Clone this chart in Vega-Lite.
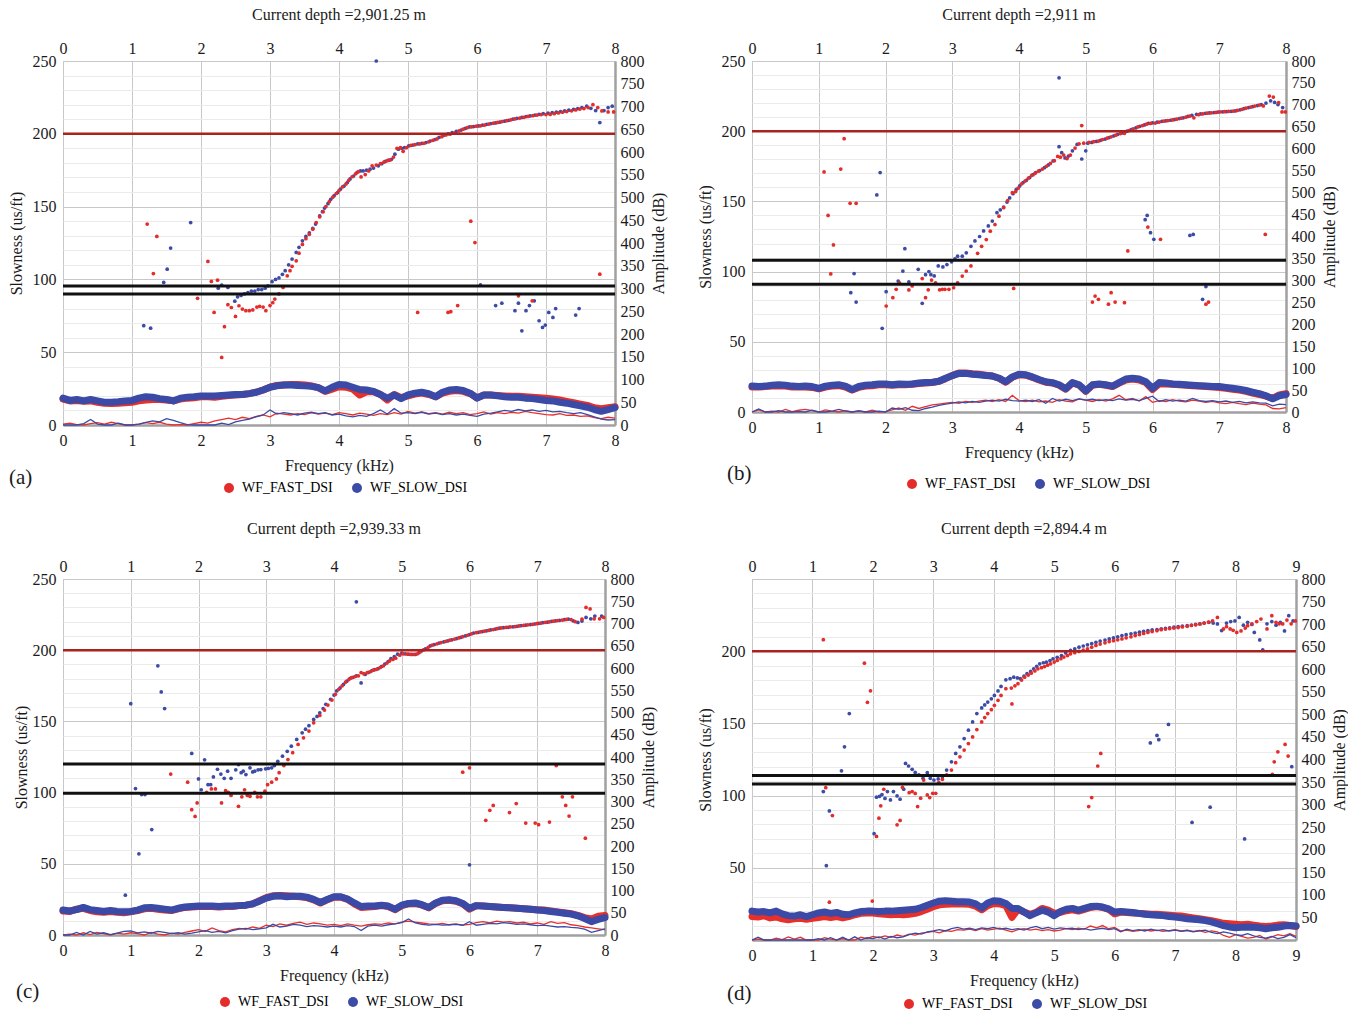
{
"$schema":"https://vega.github.io/schema/vega-lite/v6.json",
"padding":{"left":7,"top":6,"right":0,"bottom":0},
"background":"white",
"datasets":{
"dA":[
{"f":1.17,"b":68.2},{"f":1.27,"b":66.5},{"f":1.46,"b":97.9},{"f":1.51,"b":107},{"f":1.56,"b":121.5},{"f":1.85,"b":139},{"f":2.25,"b":94},{"f":2.3,"b":96},{"f":2.39,"b":94.5},{"f":2.49,"b":85},{"f":2.53,"b":88},{"f":2.58,"b":89},{"f":2.63,"b":90},{"f":2.68,"b":91},{"f":2.73,"b":92},{"f":2.78,"b":92},{"f":2.83,"b":93},{"f":2.88,"b":93},{"f":2.93,"b":94},{"f":2.97,"b":95.5},{"f":3.03,"b":98.4},{"f":3.08,"b":100},{"f":3.13,"b":101},{"f":3.18,"b":103.5},{"f":3.22,"b":106},{"f":3.27,"b":110},{"f":3.32,"b":114},{"f":3.38,"b":118.5},{"f":3.42,"b":122},{"f":3.47,"b":126.5},{"f":3.52,"b":129.5},{"f":3.57,"b":132},{"f":3.62,"b":135},{"f":3.66,"b":138},{"f":3.72,"b":143.6},{"f":3.76,"b":146.5},{"f":3.79,"b":149},{"f":3.84,"b":152},{"f":3.88,"b":155},{"f":3.93,"b":157.5},{"f":3.98,"b":159.6},{"f":4.02,"b":162},{"f":4.07,"b":164},{"f":4.12,"b":166.5},{"f":4.16,"b":169},{"f":4.21,"b":171},{"f":4.26,"b":173.4},{"f":4.31,"b":174.5},{"f":4.35,"b":174.5},{"f":4.4,"b":175},{"f":4.45,"b":175.7},{"f":4.5,"b":176.5},{"f":4.54,"b":250},{"f":4.57,"b":178},{"f":4.62,"b":179.5},{"f":4.67,"b":181},{"f":4.72,"b":182},{"f":4.76,"b":182.5},{"f":4.81,"b":186},{"f":4.86,"b":189.4},{"f":4.91,"b":190},{"f":4.95,"b":190.5},{"f":5.01,"b":191.7},{"f":5.07,"b":192.3},{"f":5.14,"b":193},{"f":5.2,"b":193.5},{"f":5.26,"b":194},{"f":5.32,"b":195},{"f":5.39,"b":196},{"f":5.45,"b":197.5},{"f":5.52,"b":199},{"f":5.58,"b":200},{"f":5.64,"b":200.8},{"f":5.7,"b":201.7},{"f":5.77,"b":202.6},{"f":5.83,"b":203.7},{"f":5.89,"b":204.7},{"f":5.95,"b":205},{"f":6.02,"b":205.4},{"f":6.05,"b":96.3},{"f":6.08,"b":206},{"f":6.14,"b":206.5},{"f":6.2,"b":207},{"f":6.27,"b":207.5},{"f":6.27,"b":82},{"f":6.33,"b":208},{"f":6.36,"b":83.7},{"f":6.4,"b":208.7},{"f":6.46,"b":209.3},{"f":6.52,"b":210},{"f":6.55,"b":78.5},{"f":6.58,"b":210.6},{"f":6.6,"b":83.7},{"f":6.65,"b":211.2},{"f":6.65,"b":64.7},{"f":6.71,"b":211.8},{"f":6.71,"b":78.5},{"f":6.76,"b":82},{"f":6.77,"b":212.3},{"f":6.83,"b":85.3},{"f":6.84,"b":212.9},{"f":6.9,"b":213.4},{"f":6.9,"b":71.6},{"f":6.95,"b":67},{"f":6.96,"b":213.8},{"f":6.99,"b":68.6},{"f":7.03,"b":214.2},{"f":7.04,"b":77.3},{"f":7.09,"b":214.5},{"f":7.1,"b":73.9},{"f":7.14,"b":80},{"f":7.15,"b":214.9},{"f":7.21,"b":215.3},{"f":7.27,"b":215.7},{"f":7.33,"b":216.2},{"f":7.4,"b":216.8},{"f":7.43,"b":75.5},{"f":7.46,"b":217.3},{"f":7.48,"b":80},{"f":7.52,"b":218},{"f":7.59,"b":219},{"f":7.65,"b":217.5},{"f":7.72,"b":216},{"f":7.78,"b":207.7},{"f":7.84,"b":216},{"f":7.9,"b":218},{"f":7.96,"b":219},
{"f":1.22,"a":138},{"f":1.31,"a":104},{"f":1.36,"a":129.5},{"f":1.95,"a":87},{"f":2.1,"a":112.3},{"f":2.15,"a":98.6},{"f":2.19,"a":77.3},{"f":2.24,"a":99.5},{"f":2.3,"a":46.4},{"f":2.34,"a":67.5},{"f":2.39,"a":82.6},{"f":2.44,"a":80.7},{"f":2.5,"a":74.6},{"f":2.55,"a":81.9},{"f":2.6,"a":79.6},{"f":2.65,"a":78.5},{"f":2.7,"a":78.5},{"f":2.75,"a":79},{"f":2.81,"a":81},{"f":2.85,"a":81.5},{"f":2.9,"a":81},{"f":2.94,"a":78.5},{"f":3.0,"a":82},{"f":3.04,"a":84},{"f":3.07,"a":86.5},{"f":3.13,"a":90},{"f":3.19,"a":94.5},{"f":3.25,"a":102.5},{"f":3.29,"a":106},{"f":3.32,"a":109},{"f":3.38,"a":112.8},{"f":3.42,"a":118},{"f":3.47,"a":124},{"f":3.52,"a":128},{"f":3.57,"a":131},{"f":3.62,"a":134.5},{"f":3.67,"a":139},{"f":3.72,"a":143},{"f":3.77,"a":146.5},{"f":3.81,"a":150},{"f":3.86,"a":153.5},{"f":3.91,"a":156.5},{"f":3.96,"a":159},{"f":4.0,"a":161},{"f":4.05,"a":163.5},{"f":4.1,"a":165.5},{"f":4.14,"a":168},{"f":4.19,"a":170.5},{"f":4.24,"a":172.5},{"f":4.28,"a":174},{"f":4.32,"a":170.4},{"f":4.38,"a":172},{"f":4.43,"a":174.5},{"f":4.48,"a":178},{"f":4.54,"a":178.5},{"f":4.6,"a":179.5},{"f":4.65,"a":180.5},{"f":4.7,"a":181.5},{"f":4.74,"a":182},{"f":4.79,"a":184},{"f":4.84,"a":190},{"f":4.89,"a":190.5},{"f":4.93,"a":188},{"f":4.98,"a":190.5},{"f":5.04,"a":192},{"f":5.1,"a":192.5},{"f":5.14,"a":77.3},{"f":5.17,"a":193},{"f":5.23,"a":193.5},{"f":5.3,"a":194.5},{"f":5.36,"a":195.5},{"f":5.42,"a":196.5},{"f":5.49,"a":198},{"f":5.55,"a":199.2},{"f":5.58,"a":77.3},{"f":5.61,"a":199.7},{"f":5.62,"a":77.8},{"f":5.67,"a":200.5},{"f":5.72,"a":82},{"f":5.74,"a":202},{"f":5.8,"a":203.2},{"f":5.86,"a":204.2},{"f":5.91,"a":140},{"f":5.92,"a":204.8},{"f":5.97,"a":125.3},{"f":5.99,"a":205.2},{"f":6.05,"a":205.5},{"f":6.11,"a":206},{"f":6.17,"a":206.7},{"f":6.24,"a":207.3},{"f":6.3,"a":207.8},{"f":6.36,"a":208.4},{"f":6.43,"a":209},{"f":6.49,"a":209.6},{"f":6.55,"a":210.2},{"f":6.6,"a":88.7},{"f":6.62,"a":210.8},{"f":6.68,"a":211.3},{"f":6.74,"a":211.9},{"f":6.8,"a":85.3},{"f":6.81,"a":212.4},{"f":6.87,"a":212.9},{"f":6.93,"a":213.2},{"f":7.0,"a":213.2},{"f":7.06,"a":213.3},{"f":7.12,"a":213.8},{"f":7.18,"a":214.3},{"f":7.24,"a":214.8},{"f":7.3,"a":215.3},{"f":7.37,"a":215.8},{"f":7.43,"a":216.4},{"f":7.49,"a":217},{"f":7.55,"a":217.3},{"f":7.61,"a":218},{"f":7.68,"a":220},{"f":7.75,"a":218},{"f":7.78,"a":103.6},{"f":7.81,"a":215.7},{"f":7.9,"a":215},{"f":7.98,"a":215}
],
"dB":[
{"f":1.48,"b":85},{"f":1.53,"b":98.6},{"f":1.56,"b":78.3},{"f":1.87,"b":154.6},{"f":1.92,"b":170.5},{"f":1.95,"b":59.6},{"f":2.01,"b":85.7},{"f":2.19,"b":93.3},{"f":2.26,"b":100.4},{"f":2.29,"b":116.3},{"f":2.35,"b":92.6},{"f":2.49,"b":101.6},{"f":2.55,"b":77.4},{"f":2.6,"b":97.8},{"f":2.65,"b":100},{"f":2.68,"b":97.8},{"f":2.73,"b":96.9},{"f":2.79,"b":104},{"f":2.86,"b":103.3},{"f":2.92,"b":105},{"f":2.99,"b":107},{"f":3.04,"b":109},{"f":3.08,"b":111},{"f":3.15,"b":111},{"f":3.21,"b":113.4},{"f":3.28,"b":118},{"f":3.34,"b":121.8},{"f":3.41,"b":125},{"f":3.47,"b":129},{"f":3.54,"b":132.5},{"f":3.6,"b":136},{"f":3.67,"b":142},{"f":3.72,"b":144},{"f":3.77,"b":146},{"f":3.82,"b":149.5},{"f":3.86,"b":152.5},{"f":3.91,"b":155.5},{"f":3.96,"b":158.6},{"f":4.01,"b":161},{"f":4.06,"b":163.3},{"f":4.11,"b":165},{"f":4.16,"b":167},{"f":4.21,"b":169},{"f":4.25,"b":170.5},{"f":4.31,"b":172},{"f":4.38,"b":174},{"f":4.44,"b":176},{"f":4.51,"b":178.8},{"f":4.6,"b":189},{"f":4.6,"b":238},{"f":4.64,"b":184.7},{"f":4.69,"b":181},{"f":4.74,"b":182.3},{"f":4.8,"b":186},{"f":4.87,"b":190.6},{"f":4.94,"b":180.2},{"f":5.0,"b":186},{"f":5.03,"b":191.5},{"f":5.09,"b":192},{"f":5.16,"b":192.7},{"f":5.22,"b":193.5},{"f":5.29,"b":194.4},{"f":5.35,"b":195.5},{"f":5.42,"b":196.6},{"f":5.48,"b":197.8},{"f":5.55,"b":198.8},{"f":5.62,"b":200},{"f":5.68,"b":201.2},{"f":5.75,"b":202.3},{"f":5.81,"b":203.5},{"f":5.88,"b":204.5},{"f":5.89,"b":137},{"f":5.92,"b":140},{"f":5.94,"b":205.5},{"f":5.97,"b":127.7},{"f":6.0,"b":206},{"f":6.02,"b":123},{"f":6.07,"b":206.4},{"f":6.14,"b":207},{"f":6.2,"b":207.4},{"f":6.27,"b":207.8},{"f":6.33,"b":208.3},{"f":6.4,"b":209},{"f":6.46,"b":209.5},{"f":6.53,"b":210.5},{"f":6.56,"b":125.8},{"f":6.59,"b":211.3},{"f":6.61,"b":126.5},{"f":6.66,"b":212},{"f":6.72,"b":212.3},{"f":6.75,"b":80.3},{"f":6.79,"b":212.7},{"f":6.8,"b":89.3},{"f":6.85,"b":213},{"f":6.92,"b":213.3},{"f":6.98,"b":213.6},{"f":7.05,"b":213.8},{"f":7.11,"b":214},{"f":7.18,"b":214.2},{"f":7.24,"b":214.4},{"f":7.31,"b":215.2},{"f":7.37,"b":216},{"f":7.44,"b":216.8},{"f":7.5,"b":217.5},{"f":7.57,"b":218.3},{"f":7.63,"b":219},{"f":7.7,"b":220},{"f":7.77,"b":221.6},{"f":7.83,"b":220.5},{"f":7.88,"b":219},{"f":7.95,"b":216.8},
{"f":1.08,"a":171},{"f":1.14,"a":140},{"f":1.18,"a":98.3},{"f":1.22,"a":119},{"f":1.33,"a":173},{"f":1.38,"a":194.7},{"f":1.47,"a":148.6},{"f":1.56,"a":148.6},{"f":2.01,"a":75.5},{"f":2.11,"a":81.4},{"f":2.16,"a":87.4},{"f":2.21,"a":92},{"f":2.35,"a":86.9},{"f":2.4,"a":89.8},{"f":2.55,"a":95},{"f":2.6,"a":81.4},{"f":2.64,"a":87},{"f":2.69,"a":94},{"f":2.75,"a":92},{"f":2.81,"a":87},{"f":2.85,"a":87.4},{"f":2.89,"a":87.4},{"f":2.95,"a":87.4},{"f":3.02,"a":88.5},{"f":3.08,"a":92},{"f":3.15,"a":96.8},{"f":3.21,"a":100.4},{"f":3.28,"a":104},{"f":3.38,"a":113},{"f":3.44,"a":118},{"f":3.51,"a":122.8},{"f":3.57,"a":128.8},{"f":3.64,"a":133.5},{"f":3.7,"a":139.5},{"f":3.77,"a":145.5},{"f":3.83,"a":150.5},{"f":3.9,"a":156.2},{"f":3.92,"a":88},{"f":3.95,"a":157},{"f":3.99,"a":159.5},{"f":4.04,"a":162.5},{"f":4.09,"a":164.5},{"f":4.14,"a":166.5},{"f":4.19,"a":168.5},{"f":4.24,"a":170},{"f":4.29,"a":171.5},{"f":4.35,"a":173},{"f":4.41,"a":175},{"f":4.47,"a":177},{"f":4.53,"a":179},{"f":4.58,"a":182},{"f":4.62,"a":181.5},{"f":4.67,"a":183},{"f":4.72,"a":180.5},{"f":4.77,"a":183},{"f":4.84,"a":188},{"f":4.9,"a":191},{"f":4.94,"a":204},{"f":4.97,"a":191.5},{"f":5.05,"a":192},{"f":5.1,"a":78.3},{"f":5.12,"a":192.5},{"f":5.14,"a":82.6},{"f":5.19,"a":193},{"f":5.19,"a":80.3},{"f":5.25,"a":194},{"f":5.32,"a":195},{"f":5.34,"a":76.8},{"f":5.38,"a":196},{"f":5.38,"a":85},{"f":5.44,"a":78.3},{"f":5.45,"a":197.2},{"f":5.52,"a":198.3},{"f":5.58,"a":198.5},{"f":5.58,"a":77.9},{"f":5.63,"a":114.7},{"f":5.65,"a":200.5},{"f":5.71,"a":201.7},{"f":5.78,"a":203},{"f":5.85,"a":204},{"f":5.91,"a":205},{"f":5.93,"a":131.7},{"f":5.97,"a":205.5},{"f":6.04,"a":205.8},{"f":6.1,"a":206.5},{"f":6.12,"a":123},{"f":6.17,"a":207.2},{"f":6.23,"a":207.6},{"f":6.3,"a":208},{"f":6.36,"a":208.6},{"f":6.43,"a":209.3},{"f":6.5,"a":210},{"f":6.56,"a":210.8},{"f":6.62,"a":209.5},{"f":6.69,"a":211.8},{"f":6.75,"a":212.3},{"f":6.8,"a":76.8},{"f":6.82,"a":212.8},{"f":6.84,"a":78.3},{"f":6.88,"a":213.1},{"f":6.95,"a":213.4},{"f":7.01,"a":213.7},{"f":7.08,"a":213.9},{"f":7.14,"a":214.1},{"f":7.21,"a":214.3},{"f":7.27,"a":214.8},{"f":7.34,"a":215.6},{"f":7.4,"a":216.4},{"f":7.47,"a":217.2},{"f":7.53,"a":217.9},{"f":7.6,"a":218.6},{"f":7.66,"a":218},{"f":7.69,"a":126.5},{"f":7.75,"a":225},{"f":7.81,"a":224.3},{"f":7.89,"a":220.4},{"f":7.94,"a":213.7},{"f":7.99,"a":213.7}
],
"dC":[
{"f":0.92,"b":28},{"f":1.0,"b":162.4},{"f":1.07,"b":102.8},{"f":1.12,"b":57},{"f":1.16,"b":98.6},{"f":1.21,"b":98.6},{"f":1.31,"b":74},{"f":1.4,"b":189},{"f":1.45,"b":170.7},{"f":1.5,"b":159},{"f":1.9,"b":127.5},{"f":2.0,"b":109.6},{"f":2.04,"b":102},{"f":2.09,"b":123},{"f":2.14,"b":105.6},{"f":2.18,"b":105.6},{"f":2.22,"b":111},{"f":2.28,"b":116.4},{"f":2.33,"b":113},{"f":2.38,"b":110},{"f":2.43,"b":115},{"f":2.48,"b":110},{"f":2.55,"b":116},{"f":2.59,"b":119.7},{"f":2.63,"b":114},{"f":2.66,"b":115},{"f":2.7,"b":112.7},{"f":2.76,"b":117.4},{"f":2.8,"b":114.5},{"f":2.83,"b":115},{"f":2.88,"b":116},{"f":2.92,"b":116.2},{"f":2.99,"b":116.7},{"f":3.03,"b":117},{"f":3.08,"b":117.4},{"f":3.12,"b":119},{"f":3.17,"b":122},{"f":3.24,"b":125.6},{"f":3.31,"b":129},{"f":3.37,"b":132.6},{"f":3.45,"b":137.3},{"f":3.53,"b":142},{"f":3.58,"b":144.5},{"f":3.63,"b":147},{"f":3.7,"b":151.4},{"f":3.75,"b":153.5},{"f":3.79,"b":156},{"f":3.84,"b":159},{"f":3.88,"b":162},{"f":3.95,"b":165.5},{"f":4.0,"b":168.5},{"f":4.04,"b":171.4},{"f":4.09,"b":173.5},{"f":4.14,"b":176},{"f":4.19,"b":178.2},{"f":4.24,"b":180.3},{"f":4.28,"b":181},{"f":4.33,"b":182},{"f":4.33,"b":234},{"f":4.4,"b":177},{"f":4.46,"b":183},{"f":4.51,"b":184.5},{"f":4.56,"b":185.7},{"f":4.6,"b":186.3},{"f":4.65,"b":187},{"f":4.7,"b":188.5},{"f":4.75,"b":190.3},{"f":4.8,"b":192},{"f":4.84,"b":194},{"f":4.89,"b":195.5},{"f":4.94,"b":197.2},{"f":5.0,"b":198},{"f":5.05,"b":197.5},{"f":5.1,"b":197.2},{"f":5.15,"b":197},{"f":5.2,"b":197},{"f":5.25,"b":198.2},{"f":5.29,"b":199.5},{"f":5.35,"b":201},{"f":5.42,"b":203},{"f":5.48,"b":204},{"f":5.55,"b":205},{"f":5.62,"b":205.8},{"f":5.68,"b":206.5},{"f":5.74,"b":207.3},{"f":5.81,"b":208.2},{"f":5.87,"b":209},{"f":5.94,"b":210},{"f":6.0,"b":211},{"f":6.0,"b":49.3},{"f":6.06,"b":212},{"f":6.13,"b":212.6},{"f":6.19,"b":213.1},{"f":6.25,"b":213.6},{"f":6.31,"b":214.2},{"f":6.38,"b":214.8},{"f":6.44,"b":215.5},{"f":6.5,"b":215.8},{"f":6.57,"b":216.1},{"f":6.64,"b":216.4},{"f":6.7,"b":216.8},{"f":6.76,"b":217.2},{"f":6.83,"b":217.6},{"f":6.9,"b":218},{"f":6.96,"b":218.4},{"f":7.02,"b":218.8},{"f":7.08,"b":219.3},{"f":7.15,"b":219.7},{"f":7.21,"b":220.2},{"f":7.27,"b":220.6},{"f":7.33,"b":221},{"f":7.4,"b":221.4},{"f":7.46,"b":221.8},{"f":7.53,"b":220.6},{"f":7.6,"b":219.5},{"f":7.66,"b":220.5},{"f":7.72,"b":223},{"f":7.79,"b":222},{"f":7.85,"b":224},{"f":7.95,"b":224},
{"f":1.59,"a":113},{"f":1.84,"a":107.3},{"f":1.9,"a":88},{"f":1.95,"a":83.3},{"f":1.98,"a":92.7},{"f":2.12,"a":100.2},{"f":2.19,"a":102.6},{"f":2.25,"a":102.6},{"f":2.34,"a":92.7},{"f":2.4,"a":101.4},{"f":2.44,"a":100.2},{"f":2.48,"a":98},{"f":2.59,"a":90.4},{"f":2.64,"a":97},{"f":2.68,"a":102},{"f":2.72,"a":98},{"f":2.76,"a":97.4},{"f":2.83,"a":100.2},{"f":2.87,"a":97},{"f":2.92,"a":97},{"f":2.98,"a":101},{"f":3.02,"a":105.6},{"f":3.08,"a":107.3},{"f":3.15,"a":109.6},{"f":3.19,"a":114},{"f":3.26,"a":119},{"f":3.32,"a":123.2},{"f":3.39,"a":128},{"f":3.47,"a":133.8},{"f":3.55,"a":138.5},{"f":3.63,"a":143.2},{"f":3.7,"a":149},{"f":3.79,"a":154.2},{"f":3.86,"a":158},{"f":3.91,"a":161.5},{"f":3.97,"a":165},{"f":4.02,"a":169},{"f":4.07,"a":172.5},{"f":4.12,"a":175},{"f":4.17,"a":177.5},{"f":4.22,"a":179.5},{"f":4.26,"a":180.7},{"f":4.31,"a":181.5},{"f":4.36,"a":182},{"f":4.4,"a":184.3},{"f":4.44,"a":183.5},{"f":4.49,"a":184.2},{"f":4.54,"a":185},{"f":4.58,"a":186},{"f":4.63,"a":186.6},{"f":4.68,"a":187.8},{"f":4.73,"a":189},{"f":4.78,"a":191},{"f":4.82,"a":192.5},{"f":4.87,"a":193.5},{"f":4.91,"a":194.4},{"f":4.97,"a":196.5},{"f":5.02,"a":197.5},{"f":5.08,"a":197.3},{"f":5.13,"a":197},{"f":5.18,"a":197},{"f":5.23,"a":197.5},{"f":5.27,"a":198.8},{"f":5.32,"a":200.2},{"f":5.39,"a":202},{"f":5.45,"a":203.5},{"f":5.52,"a":204.5},{"f":5.58,"a":205.4},{"f":5.65,"a":206.2},{"f":5.71,"a":207},{"f":5.78,"a":207.8},{"f":5.84,"a":208.6},{"f":5.9,"a":209.5},{"f":5.9,"a":114.3},{"f":5.97,"a":210.5},{"f":6.0,"a":117.4},{"f":6.03,"a":211.5},{"f":6.1,"a":212.3},{"f":6.16,"a":212.9},{"f":6.22,"a":213.4},{"f":6.24,"a":80.5},{"f":6.28,"a":213.9},{"f":6.3,"a":87.6},{"f":6.35,"a":214.5},{"f":6.35,"a":91},{"f":6.41,"a":215.1},{"f":6.47,"a":215.6},{"f":6.54,"a":216},{"f":6.59,"a":86},{"f":6.6,"a":216.3},{"f":6.67,"a":216.6},{"f":6.69,"a":92.3},{"f":6.73,"a":217},{"f":6.8,"a":217.4},{"f":6.83,"a":78.6},{"f":6.86,"a":217.8},{"f":6.93,"a":218.2},{"f":6.97,"a":78.6},{"f":6.99,"a":218.6},{"f":7.02,"a":77.5},{"f":7.05,"a":219},{"f":7.12,"a":219.5},{"f":7.18,"a":219.9},{"f":7.18,"a":79.3},{"f":7.24,"a":220.4},{"f":7.28,"a":119},{"f":7.3,"a":220.8},{"f":7.37,"a":221.2},{"f":7.37,"a":97},{"f":7.42,"a":91},{"f":7.43,"a":221.6},{"f":7.47,"a":83.5},{"f":7.5,"a":221.5},{"f":7.52,"a":97},{"f":7.56,"a":220},{"f":7.66,"a":221.8},{"f":7.71,"a":68},{"f":7.72,"a":230},{"f":7.78,"a":229},{"f":7.84,"a":222},{"f":7.92,"a":222},{"f":7.98,"a":223}
],
"dD":[
{"f":1.18,"b":102.8},{"f":1.23,"b":51.5},{"f":1.28,"b":89.4},{"f":1.48,"b":117.2},{"f":1.53,"b":133.8},{"f":1.61,"b":156.8},{"f":2.02,"b":73.6},{"f":2.06,"b":98.9},{"f":2.11,"b":99.5},{"f":2.15,"b":100.7},{"f":2.2,"b":98},{"f":2.24,"b":102.8},{"f":2.29,"b":97},{"f":2.34,"b":102.8},{"f":2.4,"b":99.8},{"f":2.45,"b":97.5},{"f":2.51,"b":104.4},{"f":2.54,"b":122.3},{"f":2.59,"b":120.5},{"f":2.65,"b":118.2},{"f":2.7,"b":116},{"f":2.76,"b":114.3},{"f":2.83,"b":112},{"f":2.9,"b":115.9},{"f":2.95,"b":112},{"f":3.01,"b":110.8},{"f":3.08,"b":111.5},{"f":3.15,"b":113.1},{"f":3.22,"b":117.7},{"f":3.3,"b":123.4},{"f":3.37,"b":129.2},{"f":3.44,"b":133.8},{"f":3.51,"b":139.5},{"f":3.58,"b":145.3},{"f":3.65,"b":151},{"f":3.72,"b":156.8},{"f":3.8,"b":160.7},{"f":3.85,"b":162.8},{"f":3.9,"b":164.8},{"f":3.96,"b":167},{"f":4.01,"b":169.4},{"f":4.07,"b":172.5},{"f":4.12,"b":175.6},{"f":4.2,"b":180.2},{"f":4.27,"b":181},{"f":4.33,"b":182},{"f":4.39,"b":181.5},{"f":4.44,"b":181},{"f":4.5,"b":182.7},{"f":4.55,"b":184.4},{"f":4.61,"b":186},{"f":4.66,"b":187.8},{"f":4.71,"b":189.5},{"f":4.76,"b":191.3},{"f":4.82,"b":192},{"f":4.87,"b":192.4},{"f":4.93,"b":193.5},{"f":4.98,"b":194.7},{"f":5.05,"b":195.8},{"f":5.12,"b":197},{"f":5.19,"b":198.8},{"f":5.27,"b":200.5},{"f":5.34,"b":201.6},{"f":5.41,"b":202.8},{"f":5.48,"b":203.6},{"f":5.55,"b":204.4},{"f":5.62,"b":205.3},{"f":5.69,"b":206.2},{"f":5.76,"b":207},{"f":5.84,"b":207.7},{"f":5.91,"b":208.5},{"f":5.98,"b":209.3},{"f":6.05,"b":210},{"f":6.12,"b":210.8},{"f":6.19,"b":211.4},{"f":6.27,"b":212},{"f":6.34,"b":212.6},{"f":6.41,"b":213.2},{"f":6.48,"b":213.8},{"f":6.55,"b":214.3},{"f":6.59,"b":136.5},{"f":6.62,"b":214.7},{"f":6.7,"b":215},{"f":6.7,"b":141.7},{"f":6.73,"b":138.7},{"f":6.77,"b":215.4},{"f":6.84,"b":215.8},{"f":6.89,"b":149.3},{"f":6.91,"b":216.2},{"f":6.98,"b":216.6},{"f":7.05,"b":217},{"f":7.12,"b":217.3},{"f":7.2,"b":217.7},{"f":7.27,"b":218.1},{"f":7.28,"b":81.4},{"f":7.34,"b":218.5},{"f":7.41,"b":218.9},{"f":7.48,"b":219.5},{"f":7.56,"b":220},{"f":7.58,"b":92},{"f":7.63,"b":219.5},{"f":7.7,"b":218.9},{"f":7.77,"b":214.3},{"f":7.85,"b":219.5},{"f":7.92,"b":220.5},{"f":7.99,"b":221},{"f":8.06,"b":223.4},{"f":8.13,"b":218},{"f":8.15,"b":70},{"f":8.2,"b":220},{"f":8.27,"b":218.5},{"f":8.31,"b":213},{"f":8.4,"b":207.8},{"f":8.45,"b":200.9},{"f":8.52,"b":219},{"f":8.6,"b":220.5},{"f":8.67,"b":218},{"f":8.74,"b":220},{"f":8.81,"b":214},{"f":8.88,"b":224.6},{"f":8.93,"b":120},{"f":8.95,"b":221},
{"f":1.18,"a":208},{"f":1.22,"a":105.5},{"f":1.28,"a":26.2},{"f":1.33,"a":86.2},{"f":1.86,"a":191.7},{"f":1.91,"a":164.6},{"f":1.96,"a":172.6},{"f":1.99,"a":27},{"f":2.06,"a":71.7},{"f":2.1,"a":84.4},{"f":2.13,"a":92.9},{"f":2.18,"a":104.4},{"f":2.4,"a":79.8},{"f":2.45,"a":82.8},{"f":2.49,"a":105.7},{"f":2.6,"a":102},{"f":2.65,"a":102.8},{"f":2.7,"a":101.5},{"f":2.74,"a":92.4},{"f":2.79,"a":98.2},{"f":2.84,"a":110.8},{"f":2.9,"a":100.5},{"f":2.94,"a":98.6},{"f":2.99,"a":101.6},{"f":3.04,"a":101.6},{"f":3.09,"a":109},{"f":3.15,"a":111.3},{"f":3.22,"a":114.3},{"f":3.3,"a":117.7},{"f":3.37,"a":122.8},{"f":3.44,"a":126.9},{"f":3.51,"a":131.5},{"f":3.58,"a":136},{"f":3.65,"a":140.6},{"f":3.72,"a":145.7},{"f":3.8,"a":151},{"f":3.85,"a":154},{"f":3.9,"a":156.8},{"f":3.96,"a":159.5},{"f":4.01,"a":162.5},{"f":4.07,"a":166},{"f":4.12,"a":169.4},{"f":4.2,"a":174},{"f":4.29,"a":174.5},{"f":4.3,"a":163.5},{"f":4.35,"a":176},{"f":4.4,"a":177.5},{"f":4.46,"a":180},{"f":4.51,"a":182},{"f":4.57,"a":183.5},{"f":4.62,"a":184.8},{"f":4.68,"a":186.3},{"f":4.73,"a":187.8},{"f":4.79,"a":188.6},{"f":4.84,"a":189.4},{"f":4.89,"a":190.3},{"f":4.94,"a":191.3},{"f":5.0,"a":192.5},{"f":5.05,"a":193.6},{"f":5.11,"a":194.8},{"f":5.16,"a":195.9},{"f":5.22,"a":197},{"f":5.27,"a":198.2},{"f":5.34,"a":199},{"f":5.41,"a":199.8},{"f":5.48,"a":200.7},{"f":5.55,"a":201.6},{"f":5.57,"a":92.4},{"f":5.62,"a":202.8},{"f":5.62,"a":98.6},{"f":5.69,"a":204},{"f":5.72,"a":120.5},{"f":5.76,"a":204.9},{"f":5.77,"a":129.2},{"f":5.84,"a":205.8},{"f":5.91,"a":206.7},{"f":5.98,"a":207.3},{"f":6.05,"a":207.9},{"f":6.12,"a":208.5},{"f":6.19,"a":209.3},{"f":6.27,"a":210},{"f":6.34,"a":210.8},{"f":6.41,"a":211.5},{"f":6.48,"a":212.3},{"f":6.55,"a":213},{"f":6.62,"a":213.6},{"f":6.7,"a":214.2},{"f":6.77,"a":214.9},{"f":6.84,"a":215.3},{"f":6.91,"a":215.7},{"f":6.98,"a":216},{"f":7.05,"a":216.4},{"f":7.12,"a":216.8},{"f":7.2,"a":217.2},{"f":7.27,"a":217.8},{"f":7.34,"a":218.3},{"f":7.41,"a":218.9},{"f":7.48,"a":219.5},{"f":7.55,"a":220.2},{"f":7.62,"a":221},{"f":7.7,"a":223.4},{"f":7.8,"a":215.4},{"f":7.85,"a":217},{"f":7.91,"a":215.4},{"f":7.96,"a":214.5},{"f":8.02,"a":213},{"f":8.09,"a":214},{"f":8.16,"a":216},{"f":8.2,"a":217.7},{"f":8.27,"a":219},{"f":8.35,"a":220.5},{"f":8.42,"a":222.3},{"f":8.52,"a":215.4},{"f":8.6,"a":224.6},{"f":8.61,"a":114.7},{"f":8.64,"a":123.4},{"f":8.67,"a":220},{"f":8.7,"a":130.3},{"f":8.72,"a":219},{"f":8.78,"a":218.9},{"f":8.82,"a":135.4},{"f":8.85,"a":221.6},{"f":8.87,"a":127.4},{"f":8.92,"a":219},{"f":8.99,"a":221}
],
"aA":[
{"f":0,"c":57,"d":59,"e":2,"g":0},{"f":0.1,"c":53,"d":54,"e":4,"g":0},{"f":0.2,"c":54,"d":56,"e":1,"g":0},{"f":0.3,"c":52,"d":53,"e":0,"g":3},{"f":0.4,"c":53,"d":56,"e":3,"g":12},{"f":0.5,"c":50,"d":53,"e":5,"g":2},{"f":0.6,"c":48,"d":50,"e":2,"g":0},{"f":0.7,"c":47,"d":50,"e":6,"g":0},{"f":0.8,"c":48,"d":51,"e":3,"g":4},{"f":0.9,"c":49,"d":53,"e":0,"g":0},{"f":1.0,"c":50,"d":54,"e":0,"g":0},{"f":1.1,"c":53,"d":59,"e":2,"g":2},{"f":1.2,"c":55,"d":62,"e":5,"g":6},{"f":1.3,"c":56,"d":61,"e":3,"g":9},{"f":1.4,"c":56,"d":58,"e":6,"g":7},{"f":1.5,"c":55,"d":56,"e":2,"g":14},{"f":1.6,"c":53,"d":53,"e":0,"g":10},{"f":1.7,"c":57,"d":59,"e":1,"g":5},{"f":1.8,"c":59,"d":61,"e":0,"g":1},{"f":1.9,"c":60,"d":62,"e":3,"g":0},{"f":2.0,"c":62,"d":64,"e":6,"g":0},{"f":2.1,"c":62,"d":64,"e":4,"g":0},{"f":2.2,"c":61,"d":64,"e":9,"g":0},{"f":2.3,"c":63,"d":65,"e":12,"g":4},{"f":2.4,"c":65,"d":66,"e":15,"g":1},{"f":2.5,"c":66,"d":67,"e":12,"g":7},{"f":2.6,"c":67,"d":67,"e":17,"g":10},{"f":2.7,"c":69,"d":69,"e":14,"g":13},{"f":2.8,"c":72,"d":72,"e":19,"g":18},{"f":2.9,"c":77,"d":77,"e":22,"g":22},{"f":3.0,"c":83,"d":83,"e":18,"g":33},{"f":3.1,"c":87,"d":86,"e":26,"g":24},{"f":3.2,"c":88,"d":88,"e":24,"g":27},{"f":3.3,"c":89,"d":88,"e":22,"g":25},{"f":3.4,"c":89,"d":87,"e":25,"g":22},{"f":3.5,"c":88,"d":86,"e":23,"g":26},{"f":3.6,"c":86,"d":85,"e":27,"g":28},{"f":3.7,"c":82,"d":82,"e":24,"g":25},{"f":3.8,"c":74,"d":75,"e":26,"g":27},{"f":3.9,"c":79,"d":83,"e":23,"g":22},{"f":4.0,"c":84,"d":89,"e":27,"g":24},{"f":4.1,"c":83,"d":88,"e":25,"g":20},{"f":4.2,"c":79,"d":83,"e":22,"g":18},{"f":4.3,"c":66,"d":78,"e":26,"g":21},{"f":4.4,"c":73,"d":77,"e":24,"g":19},{"f":4.5,"c":73,"d":74,"e":21,"g":25},{"f":4.6,"c":67,"d":67,"e":25,"g":33},{"f":4.7,"c":55,"d":59,"e":23,"g":24},{"f":4.8,"c":67,"d":66,"e":27,"g":36},{"f":4.9,"c":60,"d":58,"e":24,"g":26},{"f":5.0,"c":64,"d":66,"e":30,"g":27},{"f":5.1,"c":68,"d":70,"e":26,"g":25},{"f":5.2,"c":70,"d":72,"e":29,"g":28},{"f":5.3,"c":67,"d":69,"e":25,"g":24},{"f":5.4,"c":62,"d":62,"e":27,"g":26},{"f":5.5,"c":70,"d":72,"e":24,"g":23},{"f":5.6,"c":74,"d":77,"e":28,"g":25},{"f":5.7,"c":76,"d":78,"e":25,"g":22},{"f":5.8,"c":74,"d":76,"e":27,"g":24},{"f":5.9,"c":69,"d":70,"e":23,"g":21},{"f":6.0,"c":60,"d":59,"e":25,"g":19},{"f":6.1,"c":66,"d":66,"e":29,"g":24},{"f":6.2,"c":66,"d":66,"e":24,"g":26},{"f":6.3,"c":65,"d":64,"e":27,"g":29},{"f":6.4,"c":64,"d":62,"e":25,"g":32},{"f":6.5,"c":63,"d":61,"e":28,"g":30},{"f":6.6,"c":63,"d":61,"e":26,"g":34},{"f":6.7,"c":62,"d":59,"e":30,"g":31},{"f":6.8,"c":61,"d":58,"e":27,"g":33},{"f":6.9,"c":60,"d":56,"e":25,"g":30},{"f":7.0,"c":59,"d":54,"e":23,"g":32},{"f":7.1,"c":57,"d":53,"e":22,"g":29},{"f":7.2,"c":55,"d":50,"e":25,"g":30},{"f":7.3,"c":52,"d":48,"e":21,"g":27},{"f":7.4,"c":49,"d":45,"e":22,"g":25},{"f":7.5,"c":46,"d":42,"e":19,"g":27},{"f":7.6,"c":43,"d":39,"e":20,"g":23},{"f":7.7,"c":38,"d":34,"e":16,"g":18},{"f":7.8,"c":36,"d":30,"e":14,"g":13},{"f":7.9,"c":38,"d":34,"e":17,"g":11},{"f":8.0,"c":40,"d":38,"e":15,"g":12}
],
"aB":[
{"f":0,"c":57,"d":59,"e":0,"g":0},{"f":0.1,"c":57,"d":58,"e":5,"g":7},{"f":0.2,"c":58,"d":59,"e":0,"g":0},{"f":0.3,"c":59,"d":61,"e":2,"g":0},{"f":0.4,"c":60,"d":62,"e":0,"g":3},{"f":0.5,"c":59,"d":61,"e":6,"g":0},{"f":0.6,"c":57,"d":59,"e":1,"g":0},{"f":0.7,"c":57,"d":58,"e":4,"g":1},{"f":0.8,"c":57,"d":59,"e":6,"g":0},{"f":0.9,"c":56,"d":58,"e":3,"g":4},{"f":1.0,"c":53,"d":54,"e":0,"g":0},{"f":1.1,"c":57,"d":59,"e":5,"g":0},{"f":1.2,"c":59,"d":61,"e":2,"g":2},{"f":1.3,"c":60,"d":62,"e":0,"g":6},{"f":1.4,"c":57,"d":59,"e":3,"g":2},{"f":1.5,"c":50,"d":51,"e":0,"g":0},{"f":1.6,"c":56,"d":58,"e":2,"g":3},{"f":1.7,"c":59,"d":61,"e":0,"g":0},{"f":1.8,"c":60,"d":62,"e":4,"g":0},{"f":1.9,"c":62,"d":64,"e":0,"g":2},{"f":2.0,"c":62,"d":64,"e":1,"g":0},{"f":2.1,"c":61,"d":62,"e":5,"g":9},{"f":2.2,"c":62,"d":64,"e":9,"g":6},{"f":2.3,"c":62,"d":63,"e":4,"g":10},{"f":2.4,"c":63,"d":64,"e":13,"g":4},{"f":2.5,"c":65,"d":66,"e":8,"g":3},{"f":2.6,"c":66,"d":67,"e":12,"g":8},{"f":2.7,"c":67,"d":68,"e":16,"g":11},{"f":2.8,"c":70,"d":70,"e":18,"g":15},{"f":2.9,"c":76,"d":77,"e":20,"g":18},{"f":3.0,"c":83,"d":83,"e":22,"g":20},{"f":3.1,"c":89,"d":88,"e":20,"g":23},{"f":3.2,"c":89,"d":88,"e":24,"g":21},{"f":3.3,"c":87,"d":86,"e":22,"g":24},{"f":3.4,"c":86,"d":85,"e":25,"g":22},{"f":3.5,"c":84,"d":83,"e":27,"g":25},{"f":3.6,"c":82,"d":82,"e":24,"g":27},{"f":3.7,"c":77,"d":77,"e":28,"g":25},{"f":3.8,"c":68,"d":69,"e":24,"g":29},{"f":3.9,"c":79,"d":80,"e":38,"g":26},{"f":4.0,"c":85,"d":86,"e":26,"g":25},{"f":4.1,"c":84,"d":85,"e":24,"g":27},{"f":4.2,"c":79,"d":80,"e":27,"g":24},{"f":4.3,"c":73,"d":74,"e":23,"g":28},{"f":4.4,"c":68,"d":69,"e":25,"g":20},{"f":4.5,"c":66,"d":67,"e":22,"g":31},{"f":4.6,"c":61,"d":62,"e":28,"g":25},{"f":4.7,"c":52,"d":53,"e":25,"g":29},{"f":4.8,"c":66,"d":67,"e":23,"g":26},{"f":4.9,"c":61,"d":62,"e":30,"g":30},{"f":5.0,"c":47,"d":48,"e":27,"g":27},{"f":5.1,"c":61,"d":62,"e":24,"g":29},{"f":5.2,"c":63,"d":64,"e":28,"g":26},{"f":5.3,"c":61,"d":62,"e":25,"g":28},{"f":5.4,"c":58,"d":59,"e":30,"g":26},{"f":5.5,"c":66,"d":67,"e":38,"g":30},{"f":5.6,"c":73,"d":75,"e":28,"g":27},{"f":5.7,"c":75,"d":77,"e":31,"g":29},{"f":5.8,"c":73,"d":75,"e":25,"g":26},{"f":5.9,"c":67,"d":69,"e":35,"g":31},{"f":6.0,"c":51,"d":54,"e":22,"g":36},{"f":6.1,"c":64,"d":67,"e":26,"g":24},{"f":6.2,"c":64,"d":66,"e":24,"g":28},{"f":6.3,"c":63,"d":64,"e":28,"g":25},{"f":6.4,"c":62,"d":63,"e":25,"g":27},{"f":6.5,"c":61,"d":62,"e":23,"g":25},{"f":6.6,"c":60,"d":61,"e":27,"g":31},{"f":6.7,"c":59,"d":60,"e":25,"g":26},{"f":6.8,"c":58,"d":59,"e":22,"g":24},{"f":6.9,"c":57,"d":58,"e":24,"g":26},{"f":7.0,"c":56,"d":58,"e":21,"g":23},{"f":7.1,"c":54,"d":56,"e":19,"g":25},{"f":7.2,"c":52,"d":54,"e":22,"g":22},{"f":7.3,"c":50,"d":52,"e":19,"g":24},{"f":7.4,"c":47,"d":49,"e":17,"g":21},{"f":7.5,"c":43,"d":45,"e":20,"g":23},{"f":7.6,"c":40,"d":42,"e":18,"g":21},{"f":7.7,"c":36,"d":37,"e":16,"g":20},{"f":7.8,"c":31,"d":30,"e":8,"g":14},{"f":7.9,"c":39,"d":37,"e":7,"g":18},{"f":8.0,"c":42,"d":40,"e":10,"g":17}
],
"aC":[
{"f":0,"c":54,"d":56,"e":0,"g":0},{"f":0.1,"c":53,"d":54,"e":2,"g":0},{"f":0.2,"c":58,"d":57,"e":0,"g":6},{"f":0.3,"c":60,"d":62,"e":5,"g":0},{"f":0.4,"c":55,"d":57,"e":1,"g":8},{"f":0.5,"c":52,"d":55,"e":6,"g":2},{"f":0.6,"c":51,"d":53,"e":3,"g":5},{"f":0.7,"c":53,"d":55,"e":0,"g":1},{"f":0.8,"c":51,"d":53,"e":4,"g":4},{"f":0.9,"c":50,"d":52,"e":2,"g":8},{"f":1.0,"c":52,"d":53,"e":5,"g":9},{"f":1.1,"c":55,"d":56,"e":3,"g":5},{"f":1.2,"c":59,"d":61,"e":0,"g":7},{"f":1.3,"c":60,"d":62,"e":6,"g":4},{"f":1.4,"c":58,"d":60,"e":2,"g":8},{"f":1.5,"c":56,"d":58,"e":0,"g":6},{"f":1.6,"c":55,"d":56,"e":4,"g":3},{"f":1.7,"c":59,"d":60,"e":2,"g":5},{"f":1.8,"c":62,"d":63,"e":6,"g":2},{"f":1.9,"c":63,"d":64,"e":9,"g":4},{"f":2.0,"c":64,"d":65,"e":12,"g":7},{"f":2.1,"c":64,"d":65,"e":8,"g":10},{"f":2.2,"c":64,"d":65,"e":16,"g":6},{"f":2.3,"c":63,"d":64,"e":10,"g":8},{"f":2.4,"c":64,"d":65,"e":7,"g":5},{"f":2.5,"c":64,"d":65,"e":12,"g":10},{"f":2.6,"c":66,"d":66,"e":15,"g":13},{"f":2.7,"c":67,"d":67,"e":13,"g":15},{"f":2.8,"c":70,"d":70,"e":18,"g":12},{"f":2.9,"c":77,"d":76,"e":15,"g":14},{"f":3.0,"c":84,"d":83,"e":22,"g":16},{"f":3.1,"c":88,"d":87,"e":19,"g":24},{"f":3.2,"c":89,"d":88,"e":25,"g":18},{"f":3.3,"c":88,"d":86,"e":22,"g":20},{"f":3.4,"c":87,"d":87,"e":26,"g":24},{"f":3.5,"c":86,"d":87,"e":29,"g":22},{"f":3.6,"c":84,"d":85,"e":24,"g":19},{"f":3.7,"c":79,"d":80,"e":27,"g":21},{"f":3.8,"c":72,"d":73,"e":25,"g":20},{"f":3.9,"c":79,"d":80,"e":22,"g":18},{"f":4.0,"c":85,"d":86,"e":24,"g":20},{"f":4.1,"c":85,"d":86,"e":21,"g":18},{"f":4.2,"c":80,"d":81,"e":25,"g":21},{"f":4.3,"c":70,"d":72,"e":22,"g":19},{"f":4.4,"c":62,"d":64,"e":20,"g":10},{"f":4.5,"c":63,"d":65,"e":23,"g":20},{"f":4.6,"c":64,"d":65,"e":25,"g":22},{"f":4.7,"c":66,"d":67,"e":24,"g":20},{"f":4.8,"c":64,"d":65,"e":27,"g":23},{"f":4.9,"c":57,"d":58,"e":25,"g":25},{"f":5.0,"c":66,"d":67,"e":29,"g":28},{"f":5.1,"c":70,"d":71,"e":31,"g":36},{"f":5.2,"c":71,"d":72,"e":29,"g":27},{"f":5.3,"c":67,"d":68,"e":27,"g":24},{"f":5.4,"c":61,"d":62,"e":25,"g":22},{"f":5.5,"c":71,"d":72,"e":24,"g":24},{"f":5.6,"c":77,"d":78,"e":26,"g":22},{"f":5.7,"c":78,"d":79,"e":23,"g":23},{"f":5.8,"c":76,"d":77,"e":25,"g":24},{"f":5.9,"c":70,"d":71,"e":22,"g":22},{"f":6.0,"c":58,"d":60,"e":24,"g":30},{"f":6.1,"c":66,"d":66,"e":28,"g":22},{"f":6.2,"c":65,"d":65,"e":30,"g":24},{"f":6.3,"c":64,"d":64,"e":27,"g":26},{"f":6.4,"c":63,"d":63,"e":31,"g":25},{"f":6.5,"c":62,"d":62,"e":29,"g":28},{"f":6.6,"c":61,"d":61,"e":30,"g":26},{"f":6.7,"c":60,"d":60,"e":27,"g":24},{"f":6.8,"c":59,"d":59,"e":29,"g":25},{"f":6.9,"c":58,"d":58,"e":25,"g":23},{"f":7.0,"c":57,"d":56,"e":27,"g":21},{"f":7.1,"c":56,"d":55,"e":24,"g":22},{"f":7.2,"c":54,"d":53,"e":30,"g":20},{"f":7.3,"c":52,"d":51,"e":26,"g":18},{"f":7.4,"c":50,"d":49,"e":28,"g":19},{"f":7.5,"c":48,"d":47,"e":23,"g":17},{"f":7.6,"c":44,"d":43,"e":21,"g":16},{"f":7.7,"c":39,"d":37,"e":18,"g":13},{"f":7.8,"c":36,"d":30,"e":16,"g":6},{"f":7.9,"c":42,"d":35,"e":14,"g":10},{"f":8.0,"c":44,"d":39,"e":12,"g":14}
],
"aD":[
{"f":0,"c":52,"d":64,"e":0,"g":0},{"f":0.1,"c":51,"d":62,"e":2,"g":6},{"f":0.2,"c":54,"d":63,"e":0,"g":0},{"f":0.3,"c":49,"d":60,"e":0,"g":0},{"f":0.4,"c":51,"d":64,"e":4,"g":0},{"f":0.5,"c":47,"d":58,"e":1,"g":0},{"f":0.6,"c":45,"d":54,"e":7,"g":0},{"f":0.7,"c":47,"d":53,"e":2,"g":0},{"f":0.8,"c":48,"d":56,"e":6,"g":0},{"f":0.9,"c":46,"d":52,"e":0,"g":0},{"f":1.0,"c":48,"d":56,"e":0,"g":0},{"f":1.1,"c":50,"d":60,"e":0,"g":3},{"f":1.2,"c":52,"d":62,"e":5,"g":0},{"f":1.3,"c":50,"d":59,"e":2,"g":5},{"f":1.4,"c":52,"d":61,"e":0,"g":0},{"f":1.5,"c":49,"d":57,"e":3,"g":6},{"f":1.6,"c":52,"d":56,"e":0,"g":0},{"f":1.7,"c":56,"d":60,"e":0,"g":7},{"f":1.8,"c":59,"d":63,"e":6,"g":0},{"f":1.9,"c":60,"d":64,"e":3,"g":5},{"f":2.0,"c":60,"d":64,"e":8,"g":3},{"f":2.1,"c":58,"d":63,"e":5,"g":7},{"f":2.2,"c":57,"d":64,"e":9,"g":2},{"f":2.3,"c":56,"d":64,"e":6,"g":8},{"f":2.4,"c":57,"d":65,"e":11,"g":5},{"f":2.5,"c":56,"d":66,"e":8,"g":7},{"f":2.6,"c":57,"d":67,"e":13,"g":12},{"f":2.7,"c":59,"d":68,"e":11,"g":15},{"f":2.8,"c":63,"d":72,"e":15,"g":13},{"f":2.9,"c":68,"d":77,"e":17,"g":18},{"f":3.0,"c":74,"d":82,"e":19,"g":20},{"f":3.1,"c":78,"d":86,"e":16,"g":23},{"f":3.2,"c":79,"d":87,"e":21,"g":20},{"f":3.3,"c":80,"d":86,"e":19,"g":25},{"f":3.4,"c":80,"d":85,"e":23,"g":28},{"f":3.5,"c":80,"d":85,"e":22,"g":24},{"f":3.6,"c":79,"d":84,"e":24,"g":26},{"f":3.7,"c":75,"d":80,"e":21,"g":23},{"f":3.8,"c":67,"d":71,"e":25,"g":27},{"f":3.9,"c":76,"d":82,"e":22,"g":25},{"f":4.0,"c":81,"d":87,"e":24,"g":28},{"f":4.1,"c":80,"d":86,"e":26,"g":24},{"f":4.2,"c":76,"d":81,"e":22,"g":26},{"f":4.3,"c":50,"d":70,"e":18,"g":23},{"f":4.4,"c":68,"d":70,"e":23,"g":25},{"f":4.5,"c":62,"d":62,"e":25,"g":22},{"f":4.6,"c":57,"d":54,"e":22,"g":27},{"f":4.7,"c":61,"d":60,"e":24,"g":30},{"f":4.8,"c":70,"d":66,"e":21,"g":25},{"f":4.9,"c":66,"d":62,"e":23,"g":28},{"f":5.0,"c":59,"d":54,"e":20,"g":24},{"f":5.1,"c":61,"d":63,"e":22,"g":27},{"f":5.2,"c":65,"d":68,"e":25,"g":25},{"f":5.3,"c":67,"d":70,"e":23,"g":26},{"f":5.4,"c":64,"d":66,"e":26,"g":23},{"f":5.5,"c":68,"d":70,"e":24,"g":25},{"f":5.6,"c":72,"d":74,"e":31,"g":22},{"f":5.7,"c":74,"d":75,"e":27,"g":24},{"f":5.8,"c":72,"d":73,"e":32,"g":26},{"f":5.9,"c":68,"d":69,"e":25,"g":23},{"f":6.0,"c":58,"d":62,"e":28,"g":25},{"f":6.1,"c":62,"d":63,"e":20,"g":18},{"f":6.2,"c":61,"d":62,"e":22,"g":24},{"f":6.3,"c":60,"d":61,"e":19,"g":21},{"f":6.4,"c":59,"d":59,"e":21,"g":23},{"f":6.5,"c":58,"d":57,"e":23,"g":20},{"f":6.6,"c":57,"d":56,"e":20,"g":24},{"f":6.7,"c":57,"d":55,"e":22,"g":21},{"f":6.8,"c":56,"d":54,"e":19,"g":23},{"f":6.9,"c":55,"d":52,"e":21,"g":20},{"f":7.0,"c":54,"d":51,"e":23,"g":22},{"f":7.1,"c":53,"d":49,"e":20,"g":19},{"f":7.2,"c":51,"d":47,"e":22,"g":21},{"f":7.3,"c":49,"d":46,"e":19,"g":18},{"f":7.4,"c":47,"d":45,"e":21,"g":20},{"f":7.5,"c":45,"d":43,"e":17,"g":22},{"f":7.6,"c":43,"d":40,"e":20,"g":17},{"f":7.7,"c":40,"d":36,"e":18,"g":14},{"f":7.8,"c":37,"d":32,"e":10,"g":18},{"f":7.9,"c":36,"d":29,"e":6,"g":15},{"f":8.0,"c":35,"d":27,"e":12,"g":12},{"f":8.1,"c":34,"d":28,"e":8,"g":10},{"f":8.2,"c":35,"d":29,"e":4,"g":14},{"f":8.3,"c":33,"d":28,"e":6,"g":9},{"f":8.4,"c":31,"d":27,"e":10,"g":6},{"f":8.5,"c":30,"d":25,"e":2,"g":4},{"f":8.6,"c":31,"d":27,"e":7,"g":8},{"f":8.7,"c":33,"d":28,"e":12,"g":3},{"f":8.8,"c":34,"d":31,"e":9,"g":6},{"f":8.9,"c":32,"d":32,"e":14,"g":12},{"f":9.0,"c":30,"d":31,"e":8,"g":5}
]
},
"vconcat":[
{"hconcat":[
{"width":552,"height":364,
 "title":{"text":"Current depth =2,901.25 m","offset":17},
 "layer":[
  {"layer":[
   {"data":{"name":"dA"},"transform":[{"fold":["a","b"],"as":["k","v"]},{"filter":"isValid(datum.v)"}],
    "mark":{"type":"point","filled":true,"size":14,"opacity":1},
    "encoding":{
     "x":{"field":"f","type":"quantitative","scale":{"domain":[0,8],"nice":false},"axis":{"orient":"bottom","title":"Frequency (kHz)","tickCount":40,"format":"d","labelExpr":"datum.value % 1 === 0 ? datum.label : ''","labelOverlap":false,"grid":true,"gridColor":{"condition":{"test":"datum.value % 1 === 0","value":"#c8c8c8"},"value":"#ebebeb"},"domainColor":"#a0a0a0","domainWidth":2.5,"labelPadding":7,"titlePadding":9}},
     "y":{"field":"v","type":"quantitative","scale":{"domain":[0,250],"nice":false},"axis":{"orient":"left","title":"Slowness (us/ft)","tickCount":500,"values":[0,10,20,30,40,50,60,70,80,90,100,110,120,130,140,150,160,170,180,190,200,210,220,230,240,250],"format":"d","labelExpr":"datum.value % 50 === 0 ? datum.label : ''","labelOverlap":false,"grid":true,"gridColor":{"condition":{"test":"datum.value % 50 === 0","value":"#c8c8c8"},"value":"#ebebeb"},"domain":false,"labelPadding":7,"titlePadding":8}},
     "color":{"field":"k","type":"nominal","scale":{"domain":["a","b"],"range":["#e42c2a","#3c4ba6"]},"legend":{"title":"(a)","orient":"none","legendX":-54,"legendY":420,"direction":"horizontal","titleOrient":"left","titleBaseline":"bottom","titleFontSize":21,"titlePadding":189,"symbolType":"circle","symbolSize":100,"symbolStrokeWidth":0,"labelFontSize":14,"labelOffset":6,"columnPadding":17,"labelExpr":"datum.value === 'a' ? 'WF_FAST_DSI' : 'WF_SLOW_DSI'","encode":{"labels":{"update":{"fill":{"signal":"datum.value === 'a' ? '#e42c2a' : '#3c4ba6'"}}}}}}
    }},
   {"data":{"values":[{"v":200}]},"mark":{"type":"rule","color":"#a8231f","strokeWidth":2.5},"encoding":{"y":{"field":"v","type":"quantitative"}}},
   {"data":{"values":[{"v":95.5},{"v":90}]},"mark":{"type":"rule","color":"#111111","strokeWidth":3},"encoding":{"y":{"field":"v","type":"quantitative"}}}
  ]},
  {"data":{"name":"aA"},"layer":[
   {"transform":[{"fold":["c","d"],"as":["k","v"]}],"mark":{"type":"line","strokeWidth":7,"strokeCap":"round","strokeJoin":"round"},
    "encoding":{
     "x":{"field":"f","type":"quantitative","scale":{"domain":[0,8],"nice":false},"axis":{"orient":"top","title":null,"tickCount":500,"values":[0,1,2,3,4,5,6,7,8],"format":"d","labelOverlap":false,"grid":false,"domain":false,"labelPadding":5}},
     "y":{"field":"v","type":"quantitative","scale":{"domain":[0,800],"nice":false},"axis":{"orient":"right","title":"Amplitude (dB)","tickCount":500,"values":[0,50,100,150,200,250,300,350,400,450,500,550,600,650,700,750,800],"format":"d","labelOverlap":false,"grid":false,"domainColor":"#a0a0a0","domainWidth":2.5,"labelPadding":5,"titlePadding":6,"titleAngle":270,"titleBaseline":"top"}},
     "stroke":{"field":"k","type":"nominal","scale":{"domain":["c","d","e","g"],"range":["#e8302a","#3a4aa6","#e8302a","#3a4aa6"]},"legend":null}}},
   {"transform":[{"fold":["e","g"],"as":["k","v"]}],"mark":{"type":"line","strokeWidth":1.3},
    "encoding":{"x":{"field":"f","type":"quantitative"},"y":{"field":"v","type":"quantitative"},"stroke":{"field":"k","type":"nominal","legend":null}}}
  ]}
 ],
 "resolve":{"scale":{"x":"independent","y":"independent"}}
},
{"width":534,"height":351,
 "title":{"text":"Current depth =2,911 m","offset":17},
 "layer":[
  {"layer":[
   {"data":{"name":"dB"},"transform":[{"fold":["a","b"],"as":["k","v"]},{"filter":"isValid(datum.v)"}],
    "mark":{"type":"point","filled":true,"size":14,"opacity":1},
    "encoding":{
     "x":{"field":"f","type":"quantitative","scale":{"domain":[0,8],"nice":false},"axis":{"orient":"bottom","title":"Frequency (kHz)","tickCount":40,"format":"d","labelExpr":"datum.value % 1 === 0 ? datum.label : ''","labelOverlap":false,"grid":true,"gridColor":{"condition":{"test":"datum.value % 1 === 0","value":"#c8c8c8"},"value":"#ebebeb"},"domainColor":"#a0a0a0","domainWidth":2.5,"labelPadding":7,"titlePadding":9}},
     "y":{"field":"v","type":"quantitative","scale":{"domain":[0,250],"nice":false},"axis":{"orient":"left","title":"Slowness (us/ft)","tickCount":500,"values":[0,10,20,30,40,50,60,70,80,90,100,110,120,130,140,150,160,170,180,190,200,210,220,230,240,250],"format":"d","labelExpr":"datum.value % 50 === 0 ? datum.label : ''","labelOverlap":false,"grid":true,"gridColor":{"condition":{"test":"datum.value % 50 === 0","value":"#c8c8c8"},"value":"#ebebeb"},"domain":false,"labelPadding":7,"titlePadding":8}},
     "color":{"field":"k","type":"nominal","scale":{"domain":["a","b"],"range":["#e42c2a","#3c4ba6"]},"legend":{"title":"(b)","orient":"none","legendX":-25,"legendY":416,"direction":"horizontal","titleOrient":"left","titleBaseline":"bottom","titleFontSize":21,"titlePadding":153,"symbolType":"circle","symbolSize":100,"symbolStrokeWidth":0,"labelFontSize":14,"labelOffset":6,"columnPadding":17,"labelExpr":"datum.value === 'a' ? 'WF_FAST_DSI' : 'WF_SLOW_DSI'","encode":{"labels":{"update":{"fill":{"signal":"datum.value === 'a' ? '#e42c2a' : '#3c4ba6'"}}}}}}
    }},
   {"data":{"values":[{"v":200}]},"mark":{"type":"rule","color":"#a8231f","strokeWidth":2.5},"encoding":{"y":{"field":"v","type":"quantitative"}}},
   {"data":{"values":[{"v":108},{"v":91}]},"mark":{"type":"rule","color":"#111111","strokeWidth":3},"encoding":{"y":{"field":"v","type":"quantitative"}}}
  ]},
  {"data":{"name":"aB"},"layer":[
   {"transform":[{"fold":["c","d"],"as":["k","v"]}],"mark":{"type":"line","strokeWidth":7,"strokeCap":"round","strokeJoin":"round"},
    "encoding":{
     "x":{"field":"f","type":"quantitative","scale":{"domain":[0,8],"nice":false},"axis":{"orient":"top","title":null,"tickCount":500,"values":[0,1,2,3,4,5,6,7,8],"format":"d","labelOverlap":false,"grid":false,"domain":false,"labelPadding":5}},
     "y":{"field":"v","type":"quantitative","scale":{"domain":[0,800],"nice":false},"axis":{"orient":"right","title":"Amplitude (dB)","tickCount":500,"values":[0,50,100,150,200,250,300,350,400,450,500,550,600,650,700,750,800],"format":"d","labelOverlap":false,"grid":false,"domainColor":"#a0a0a0","domainWidth":2.5,"labelPadding":5,"titlePadding":6,"titleAngle":270,"titleBaseline":"top"}},
     "stroke":{"field":"k","type":"nominal","scale":{"domain":["c","d","e","g"],"range":["#e8302a","#3a4aa6","#e8302a","#3a4aa6"]},"legend":null}}},
   {"transform":[{"fold":["e","g"],"as":["k","v"]}],"mark":{"type":"line","strokeWidth":1.3},
    "encoding":{"x":{"field":"f","type":"quantitative"},"y":{"field":"v","type":"quantitative"},"stroke":{"field":"k","type":"nominal","legend":null}}}
  ]}
 ],
 "resolve":{"scale":{"x":"independent","y":"independent"}}
}
],"spacing":29,"resolve":{"scale":{"color":"independent"},"legend":{"color":"independent"}}},
{"hconcat":[
{"width":542,"height":356,
 "title":{"text":"Current depth =2,939.33 m","offset":21},
 "layer":[
  {"layer":[
   {"data":{"name":"dC"},"transform":[{"fold":["a","b"],"as":["k","v"]},{"filter":"isValid(datum.v)"}],
    "mark":{"type":"point","filled":true,"size":14,"opacity":1},
    "encoding":{
     "x":{"field":"f","type":"quantitative","scale":{"domain":[0,8],"nice":false},"axis":{"orient":"bottom","title":"Frequency (kHz)","tickCount":40,"format":"d","labelExpr":"datum.value % 1 === 0 ? datum.label : ''","labelOverlap":false,"grid":true,"gridColor":{"condition":{"test":"datum.value % 1 === 0","value":"#c8c8c8"},"value":"#ebebeb"},"domainColor":"#a0a0a0","domainWidth":2.5,"labelPadding":7,"titlePadding":9}},
     "y":{"field":"v","type":"quantitative","scale":{"domain":[0,250],"nice":false},"axis":{"orient":"left","title":"Slowness (us/ft)","tickCount":500,"values":[0,10,20,30,40,50,60,70,80,90,100,110,120,130,140,150,160,170,180,190,200,210,220,230,240,250],"format":"d","labelExpr":"datum.value % 50 === 0 ? datum.label : ''","labelOverlap":false,"grid":true,"gridColor":{"condition":{"test":"datum.value % 50 === 0","value":"#c8c8c8"},"value":"#ebebeb"},"domain":false,"labelPadding":7,"titlePadding":3}},
     "color":{"field":"k","type":"nominal","scale":{"domain":["a","b"],"range":["#e42c2a","#3c4ba6"]},"legend":{"title":"(c)","orient":"none","legendX":-47,"legendY":416,"direction":"horizontal","titleOrient":"left","titleBaseline":"bottom","titleFontSize":21,"titlePadding":178,"symbolType":"circle","symbolSize":100,"symbolStrokeWidth":0,"labelFontSize":14,"labelOffset":6,"columnPadding":17,"labelExpr":"datum.value === 'a' ? 'WF_FAST_DSI' : 'WF_SLOW_DSI'","encode":{"labels":{"update":{"fill":{"signal":"datum.value === 'a' ? '#e42c2a' : '#3c4ba6'"}}}}}}
    }},
   {"data":{"values":[{"v":200}]},"mark":{"type":"rule","color":"#a8231f","strokeWidth":2.5},"encoding":{"y":{"field":"v","type":"quantitative"}}},
   {"data":{"values":[{"v":120},{"v":99.5}]},"mark":{"type":"rule","color":"#111111","strokeWidth":3},"encoding":{"y":{"field":"v","type":"quantitative"}}}
  ]},
  {"data":{"name":"aC"},"layer":[
   {"transform":[{"fold":["c","d"],"as":["k","v"]}],"mark":{"type":"line","strokeWidth":7,"strokeCap":"round","strokeJoin":"round"},
    "encoding":{
     "x":{"field":"f","type":"quantitative","scale":{"domain":[0,8],"nice":false},"axis":{"orient":"top","title":null,"tickCount":500,"values":[0,1,2,3,4,5,6,7,8],"format":"d","labelOverlap":false,"grid":false,"domain":false,"labelPadding":5}},
     "y":{"field":"v","type":"quantitative","scale":{"domain":[0,800],"nice":false},"axis":{"orient":"right","title":"Amplitude (dB)","tickCount":500,"values":[0,50,100,150,200,250,300,350,400,450,500,550,600,650,700,750,800],"format":"d","labelOverlap":false,"grid":false,"domainColor":"#a0a0a0","domainWidth":2.5,"labelPadding":5,"titlePadding":6,"titleAngle":270,"titleBaseline":"top"}},
     "stroke":{"field":"k","type":"nominal","scale":{"domain":["c","d","e","g"],"range":["#e8302a","#3a4aa6","#e8302a","#3a4aa6"]},"legend":null}}},
   {"transform":[{"fold":["e","g"],"as":["k","v"]}],"mark":{"type":"line","strokeWidth":1.3},
    "encoding":{"x":{"field":"f","type":"quantitative"},"y":{"field":"v","type":"quantitative"},"stroke":{"field":"k","type":"nominal","legend":null}}}
  ]}
 ],
 "resolve":{"scale":{"x":"independent","y":"independent"}}
},
{"width":544,"height":361,
 "title":{"text":"Current depth =2,894.4 m","offset":21},
 "layer":[
  {"layer":[
   {"data":{"name":"dD"},"transform":[{"fold":["a","b"],"as":["k","v"]},{"filter":"isValid(datum.v)"}],
    "mark":{"type":"point","filled":true,"size":14,"opacity":1},
    "encoding":{
     "x":{"field":"f","type":"quantitative","scale":{"domain":[0,9],"nice":false},"axis":{"orient":"bottom","title":"Frequency (kHz)","tickCount":45,"format":"d","labelExpr":"datum.value % 1 === 0 ? datum.label : ''","labelOverlap":false,"grid":true,"gridColor":{"condition":{"test":"datum.value % 1 === 0","value":"#c8c8c8"},"value":"#ebebeb"},"domainColor":"#a0a0a0","domainWidth":2.5,"labelPadding":7,"titlePadding":9}},
     "y":{"field":"v","type":"quantitative","scale":{"domain":[0,250],"nice":false},"axis":{"orient":"left","title":"Slowness (us/ft)","tickCount":500,"values":[0,10,20,30,40,50,60,70,80,90,100,110,120,130,140,150,160,170,180,190,200,210,220,230,240,250],"format":"d","labelExpr":"datum.value % 50 === 0 && datum.value > 0 && datum.value < 250 ? datum.label : ''","labelOverlap":false,"grid":true,"gridColor":{"condition":{"test":"datum.value % 50 === 0","value":"#c8c8c8"},"value":"#ebebeb"},"domain":false,"labelPadding":7,"titlePadding":8}},
     "color":{"field":"k","type":"nominal","scale":{"domain":["a","b"],"range":["#e42c2a","#3c4ba6"]},"legend":{"title":"(d)","orient":"none","legendX":-25,"legendY":418,"direction":"horizontal","titleOrient":"left","titleBaseline":"bottom","titleFontSize":21,"titlePadding":150,"symbolType":"circle","symbolSize":100,"symbolStrokeWidth":0,"labelFontSize":14,"labelOffset":6,"columnPadding":17,"labelExpr":"datum.value === 'a' ? 'WF_FAST_DSI' : 'WF_SLOW_DSI'","encode":{"labels":{"update":{"fill":{"signal":"datum.value === 'a' ? '#e42c2a' : '#3c4ba6'"}}}}}}
    }},
   {"data":{"values":[{"v":200}]},"mark":{"type":"rule","color":"#a8231f","strokeWidth":2.5},"encoding":{"y":{"field":"v","type":"quantitative"}}},
   {"data":{"values":[{"v":114},{"v":108}]},"mark":{"type":"rule","color":"#111111","strokeWidth":3},"encoding":{"y":{"field":"v","type":"quantitative"}}}
  ]},
  {"data":{"name":"aD"},"layer":[
   {"transform":[{"fold":["c","d"],"as":["k","v"]}],"mark":{"type":"line","strokeWidth":7,"strokeCap":"round","strokeJoin":"round"},
    "encoding":{
     "x":{"field":"f","type":"quantitative","scale":{"domain":[0,9],"nice":false},"axis":{"orient":"top","title":null,"tickCount":500,"values":[0,1,2,3,4,5,6,7,8,9],"format":"d","labelOverlap":false,"grid":false,"domain":false,"labelPadding":5}},
     "y":{"field":"v","type":"quantitative","scale":{"domain":[0,800],"nice":false},"axis":{"orient":"right","title":"Amplitude (dB)","tickCount":500,"values":[50,100,150,200,250,300,350,400,450,500,550,600,650,700,750,800],"format":"d","labelOverlap":false,"grid":false,"domainColor":"#a0a0a0","domainWidth":2.5,"labelPadding":5,"titlePadding":6,"titleAngle":270,"titleBaseline":"top"}},
     "stroke":{"field":"k","type":"nominal","scale":{"domain":["c","d","e","g"],"range":["#e8302a","#3a4aa6","#e8302a","#3a4aa6"]},"legend":null}}},
   {"transform":[{"fold":["e","g"],"as":["k","v"]}],"mark":{"type":"line","strokeWidth":1.3},
    "encoding":{"x":{"field":"f","type":"quantitative"},"y":{"field":"v","type":"quantitative"},"stroke":{"field":"k","type":"nominal","legend":null}}}
  ]}
 ],
 "resolve":{"scale":{"x":"independent","y":"independent"}}
}
],"spacing":39,"resolve":{"scale":{"color":"independent"},"legend":{"color":"independent"}}}
],
"spacing":24,
"resolve":{"scale":{"color":"independent"},"legend":{"color":"independent"}},
"config":{
 "view":{"stroke":"#c4c4c4","strokeWidth":1},
 "font":"Liberation Serif",
 "axis":{"labelFont":"Liberation Serif","titleFont":"Liberation Serif","labelFontSize":16,"titleFontSize":16,"titleFontWeight":"normal","labelColor":"#1a1a1a","titleColor":"#1a1a1a","ticks":false,"labelOverlap":false,"labelBound":false,"labelFlush":false},
 "legend":{"labelFont":"Liberation Serif","titleFont":"Liberation Serif","titleFontWeight":"normal","titleColor":"#1a1a1a"},
 "title":{"font":"Liberation Serif","fontSize":16,"fontWeight":"normal","color":"#1a1a1a","anchor":"middle"}
}
}
